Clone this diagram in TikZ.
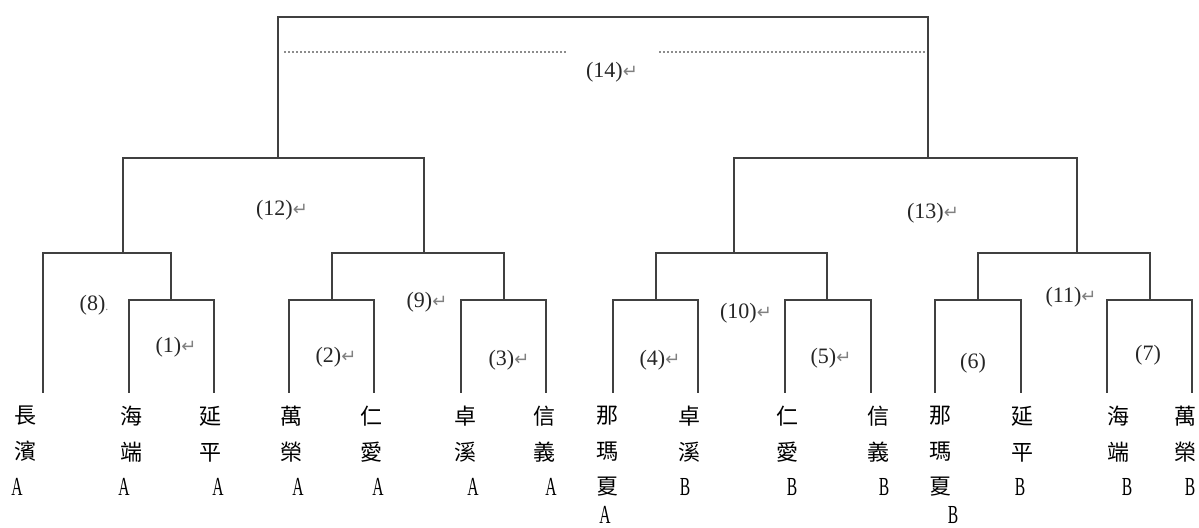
\documentclass[tikz,border=0pt]{standalone}
\usepackage{fontspec}
\setmainfont{Liberation Serif}
\newfontfamily\cjk{Noto Sans CJK TC}
\newfontfamily\abfont[FakeStretch=0.6]{Liberation Serif}
\newfontfamily\arrowfont{DejaVu Sans}
\newcommand{\retmark}{{\arrowfont\color{gray}\fontsize{9}{9}\selectfont ↵}}
\newcommand{\dotmark}{{\color{gray}\fontsize{6}{6}\selectfont .}}

\begin{document}
\begin{tikzpicture}[x=0.5pt,y=-0.5pt,
		branch/.style={draw=black!75,line width=1.3pt},
		cut/.style={draw=black!45,line width=1.4pt,dash pattern=on 1pt off 1pt},
		num/.style={inner sep=0pt,text=black!85,font=\fontsize{11}{11}\selectfont},
		site/.style={inner sep=0pt,anchor=north,align=center,font=\cjk\fontsize{11}{17.75}\selectfont},
		grp/.style={inner sep=0pt,font=\abfont\fontsize{13}{13}\selectfont}]
		\useasboundingbox (0,0) rectangle (1199,528);
		
		% leaf ends
		\foreach \i/\x in {1/43,2/129,3/214,4/289,5/374,6/461,7/546,8/613,9/698,10/785,11/871,12/935,13/1021,14/1107,15/1192}
		\coordinate (L\i) at (\x,393);
		
		% merge points
		\coordinate (c1) at (171,300);
		\coordinate (c2) at (332,300);
		\coordinate (c3) at (504,300);
		\coordinate (c4) at (656,300);
		\coordinate (c5) at (827,300);
		\coordinate (c6) at (978,300);
		\coordinate (c7) at (1150,300);
		\coordinate (c8) at (123,253);
		\coordinate (c9) at (424,253);
		\coordinate (c10) at (734,253);
		\coordinate (c11) at (1077,253);
		\coordinate (c12) at (278,158);
		\coordinate (c13) at (928,158);
		\coordinate (c14) at (600,17);
		
		\draw[branch] (L2) |- (c1) -| (L3);
		\draw[branch] (L4) |- (c2) -| (L5);
		\draw[branch] (L6) |- (c3) -| (L7);
		\draw[branch] (L8) |- (c4) -| (L9);
		\draw[branch] (L10) |- (c5) -| (L11);
		\draw[branch] (L12) |- (c6) -| (L13);
		\draw[branch] (L14) |- (c7) -| (L15);
		\draw[branch] (L1) |- (c8) -| (c1);
		\draw[branch] (c2) |- (c9) -| (c3);
		\draw[branch] (c4) |- (c10) -| (c5);
		\draw[branch] (c6) |- (c11) -| (c7);
		\draw[branch] (c8) |- (c12) -| (c9);
		\draw[branch] (c10) |- (c13) -| (c11);
		\draw[branch] (c12) |- (c14) -| (c13);
		
		% cut line
		\coordinate (d1) at (284,52);
		\coordinate (d2) at (568,52);
		\coordinate (d3) at (659,52);
		\coordinate (d4) at (926,52);
		\draw[cut] (d1) -- (d2);
		\draw[cut] (d3) -- (d4);
		
		% step labels
		\node[num] (n14) at (612,72) {(14)\retmark};
		\node[num] (n12) at (282,210) {(12)\retmark};
		\node[num] (n13) at (933,213) {(13)\retmark};
		\node[num] (n8) at (94,305) {(8)\dotmark};
		\node[num] (n9) at (427,302) {(9)\retmark};
		\node[num] (n10) at (746,313) {(10)\retmark};
		\node[num] (n11) at (1071,297) {(11)\retmark};
		\node[num] (n1) at (176,347) {(1)\retmark};
		\node[num] (n2) at (336,357) {(2)\retmark};
		\node[num] (n3) at (509,360) {(3)\retmark};
		\node[num] (n4) at (660,360) {(4)\retmark};
		\node[num] (n5) at (831,358) {(5)\retmark};
		\node[num] (n6) at (973,363) {(6)};
		\node[num] (n7) at (1148,355) {(7)};
		
		% site names
		\foreach \i/\x/\t in {1/25/長\\濱,2/131/海\\端,3/210/延\\平,4/291/萬\\榮,5/371/仁\\愛,6/465/卓\\溪,7/544/信\\義,8/607/那\\瑪\\夏,9/689/卓\\溪,10/787/仁\\愛,11/878/信\\義,12/940/那\\瑪\\夏,13/1022/延\\平,14/1118/海\\端,15/1185/萬\\榮}
		\node[site] (s\i) at (\x,406) {\t};
		
		% group letters
		\foreach \i/\x/\y/\t in {1/17/487/A,2/124/487/A,3/218/487/A,4/298/487/A,5/378/487/A,6/473/487/A,7/551/487/A,8/605/515/A,9/685/487/B,10/792/487/B,11/884/487/B,12/953/515/B,13/1020/487/B,14/1127/487/B,15/1190/487/B}
		\node[grp] (g\i) at (\x,\y) {\t};
\end{tikzpicture}
\end{document}
